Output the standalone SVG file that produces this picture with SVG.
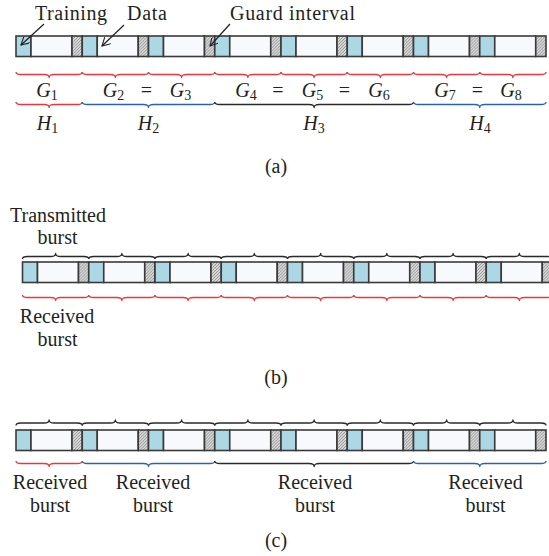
<svg xmlns="http://www.w3.org/2000/svg" xmlns:xlink="http://www.w3.org/1999/xlink" width="549" height="556" viewBox="0 0 549 556" font-family="'Liberation Serif', 'DejaVu Serif', serif">
  <style>
    text { font-family: 'Liberation Serif', 'DejaVu Serif', serif; font-size: 20px; fill: #231f20; }
    .mid { text-anchor: middle; }
    .it { font-style: italic; }
    .sub { font-size: 14px; }
    .brace { fill: none; stroke-width: 1.3; stroke-linejoin: round; }
    .red { stroke: #e8383d; }
    .blue { stroke: #2f5fb0; }
    .black { stroke: #2a2a2a; }
    .cell { stroke: #3a3a3a; stroke-width: 1.6; }
    .train { fill: #acd8e6; }
    .data { fill: #f8f9fc; }
    .guard { fill: url(#hatch); }
    .arrow { fill: none; stroke: #231f20; stroke-width: 1.2; marker-end: url(#head); }
  </style>
  <defs>
    <pattern id="hatch" width="3" height="3" patternUnits="userSpaceOnUse">
      <rect width="3" height="3" fill="#d6d6d6"/>
      <path d="M0,3 L3,0 M-1,1 L1,-1 M2,4 L4,2" stroke="#8a8a8a" stroke-width="0.8"/>
    </pattern>
    <marker id="head" viewBox="0 0 10 10" refX="9" refY="5" markerWidth="9" markerHeight="9" markerUnits="userSpaceOnUse" orient="auto">
      <path d="M0,0 L9,5 L0,10" fill="none" stroke="#231f20" stroke-width="1.2"/>
    </marker>
    <!-- one burst: training, data, guard interval -->
    <g id="burst">
      <rect class="cell train" x="0" y="0" width="15" height="20.5"/>
      <rect class="cell data" x="15" y="0" width="41" height="20.5"/>
      <rect class="cell guard" x="56" y="0" width="10.25" height="20.5"/>
    </g>
    <!-- braces, drawn from their left end at the origin -->
    <path id="bDown1" d="M0,0 Q0,2.5 5,2.5 H28.125 Q33.125,2.5 33.125,5.5 Q33.125,2.5 38.125,2.5 H61.25 Q66.25,2.5 66.25,0"/>
    <path id="bUp1" d="M0,0 Q0,-2.5 5,-2.5 H28.125 Q33.125,-2.5 33.125,-5.5 Q33.125,-2.5 38.125,-2.5 H61.25 Q66.25,-2.5 66.25,0"/>
    <path id="bDown2" d="M0,0 Q0,2.5 5,2.5 H61.25 Q66.25,2.5 66.25,5.5 Q66.25,2.5 71.25,2.5 H127.5 Q132.5,2.5 132.5,0"/>
    <path id="bDown3" d="M0,0 Q0,2.5 5,2.5 H94.375 Q99.375,2.5 99.375,5.5 Q99.375,2.5 104.375,2.5 H193.75 Q198.75,2.5 198.75,0"/>
  </defs>

  <!-- (a) -->
  <g id="panel-a">
    <g id="bar-a">
      <use xlink:href="#burst" x="16" y="36"/>
      <use xlink:href="#burst" x="82.25" y="36"/>
      <use xlink:href="#burst" x="148.5" y="36"/>
      <use xlink:href="#burst" x="214.75" y="36"/>
      <use xlink:href="#burst" x="281" y="36"/>
      <use xlink:href="#burst" x="347.25" y="36"/>
      <use xlink:href="#burst" x="413.5" y="36"/>
      <use xlink:href="#burst" x="479.75" y="36"/>
    </g>
    <g id="labels-a">
      <text x="35" y="19.5" textLength="72">Training</text>
      <text x="127" y="19.5" textLength="40">Data</text>
      <text x="230" y="19.5" textLength="125">Guard interval</text>
    </g>
    <g id="arrows-a">
      <line class="arrow" x1="44" y1="24" x2="21" y2="45"/>
      <line class="arrow" x1="124" y1="25" x2="102" y2="46"/>
      <line class="arrow" x1="230" y1="24" x2="210" y2="46"/>
    </g>
    <g id="braces-g" class="brace red">
      <use xlink:href="#bDown1" x="16" y="72"/>
      <use xlink:href="#bDown1" x="82.25" y="72"/>
      <use xlink:href="#bDown1" x="148.5" y="72"/>
      <use xlink:href="#bDown1" x="214.75" y="72"/>
      <use xlink:href="#bDown1" x="281" y="72"/>
      <use xlink:href="#bDown1" x="347.25" y="72"/>
      <use xlink:href="#bDown1" x="413.5" y="72"/>
      <use xlink:href="#bDown1" x="479.75" y="72"/>
    </g>
    <g id="g-labels">
      <text class="mid" x="47" y="97"><tspan class="it">G</tspan><tspan class="sub" dy="3">1</tspan></text>
      <text class="mid" x="113.5" y="97"><tspan class="it">G</tspan><tspan class="sub" dy="3">2</tspan></text>
      <text class="mid" x="146.5" y="97">=</text>
      <text class="mid" x="180.5" y="97"><tspan class="it">G</tspan><tspan class="sub" dy="3">3</tspan></text>
      <text class="mid" x="246" y="97"><tspan class="it">G</tspan><tspan class="sub" dy="3">4</tspan></text>
      <text class="mid" x="278" y="97">=</text>
      <text class="mid" x="312.5" y="97"><tspan class="it">G</tspan><tspan class="sub" dy="3">5</tspan></text>
      <text class="mid" x="344.5" y="97">=</text>
      <text class="mid" x="379" y="97"><tspan class="it">G</tspan><tspan class="sub" dy="3">6</tspan></text>
      <text class="mid" x="445" y="97"><tspan class="it">G</tspan><tspan class="sub" dy="3">7</tspan></text>
      <text class="mid" x="477.5" y="97">=</text>
      <text class="mid" x="511" y="97"><tspan class="it">G</tspan><tspan class="sub" dy="3">8</tspan></text>
    </g>
    <g id="braces-h">
      <use class="brace red" xlink:href="#bDown1" x="16" y="102"/>
      <use class="brace blue" xlink:href="#bDown2" x="82.25" y="102"/>
      <use class="brace black" xlink:href="#bDown3" x="214.75" y="102"/>
      <use class="brace blue" xlink:href="#bDown2" x="413.5" y="102"/>
    </g>
    <g id="h-labels">
      <text class="mid" x="47.5" y="130"><tspan class="it">H</tspan><tspan class="sub" dy="3">1</tspan></text>
      <text class="mid" x="148.5" y="130"><tspan class="it">H</tspan><tspan class="sub" dy="3">2</tspan></text>
      <text class="mid" x="314" y="130"><tspan class="it">H</tspan><tspan class="sub" dy="3">3</tspan></text>
      <text class="mid" x="480" y="130"><tspan class="it">H</tspan><tspan class="sub" dy="3">4</tspan></text>
    </g>
    <text class="mid" x="276" y="173">(a)</text>
  </g>

  <!-- (b) -->
  <g id="panel-b">
    <g id="tx-label">
      <text class="mid" x="58" y="221.5">Transmitted</text>
      <text class="mid" x="57.5" y="243.5">burst</text>
    </g>
    <g id="braces-tx" class="brace black">
      <use xlink:href="#bUp1" x="22.5" y="259"/>
      <use xlink:href="#bUp1" x="88.75" y="259"/>
      <use xlink:href="#bUp1" x="155" y="259"/>
      <use xlink:href="#bUp1" x="221.25" y="259"/>
      <use xlink:href="#bUp1" x="287.5" y="259"/>
      <use xlink:href="#bUp1" x="353.75" y="259"/>
      <use xlink:href="#bUp1" x="420" y="259"/>
      <use xlink:href="#bUp1" x="486.25" y="259"/>
    </g>
    <g id="bar-b">
      <use xlink:href="#burst" x="22.5" y="262"/>
      <use xlink:href="#burst" x="88.75" y="262"/>
      <use xlink:href="#burst" x="155" y="262"/>
      <use xlink:href="#burst" x="221.25" y="262"/>
      <use xlink:href="#burst" x="287.5" y="262"/>
      <use xlink:href="#burst" x="353.75" y="262"/>
      <use xlink:href="#burst" x="420" y="262"/>
      <use xlink:href="#burst" x="486.25" y="262"/>
    </g>
    <g id="braces-rx" class="brace red">
      <use xlink:href="#bDown1" x="22.5" y="295"/>
      <use xlink:href="#bDown1" x="88.75" y="295"/>
      <use xlink:href="#bDown1" x="155" y="295"/>
      <use xlink:href="#bDown1" x="221.25" y="295"/>
      <use xlink:href="#bDown1" x="287.5" y="295"/>
      <use xlink:href="#bDown1" x="353.75" y="295"/>
      <use xlink:href="#bDown1" x="420" y="295"/>
      <use xlink:href="#bDown1" x="486.25" y="295"/>
    </g>
    <g id="rx-label">
      <text class="mid" x="57" y="323">Received</text>
      <text class="mid" x="57.5" y="346">burst</text>
    </g>
    <text class="mid" x="276" y="384">(b)</text>
  </g>

  <!-- (c) -->
  <g id="panel-c">
    <g id="braces-c-top" class="brace black">
      <use xlink:href="#bUp1" x="16" y="425.5"/>
      <use xlink:href="#bUp1" x="82.25" y="425.5"/>
      <use xlink:href="#bUp1" x="148.5" y="425.5"/>
      <use xlink:href="#bUp1" x="214.75" y="425.5"/>
      <use xlink:href="#bUp1" x="281" y="425.5"/>
      <use xlink:href="#bUp1" x="347.25" y="425.5"/>
      <use xlink:href="#bUp1" x="413.5" y="425.5"/>
      <use xlink:href="#bUp1" x="479.75" y="425.5"/>
    </g>
    <g id="bar-c">
      <use xlink:href="#burst" x="16" y="430"/>
      <use xlink:href="#burst" x="82.25" y="430"/>
      <use xlink:href="#burst" x="148.5" y="430"/>
      <use xlink:href="#burst" x="214.75" y="430"/>
      <use xlink:href="#burst" x="281" y="430"/>
      <use xlink:href="#burst" x="347.25" y="430"/>
      <use xlink:href="#burst" x="413.5" y="430"/>
      <use xlink:href="#burst" x="479.75" y="430"/>
    </g>
    <g id="braces-c-bottom">
      <use class="brace red" xlink:href="#bDown1" x="16" y="461"/>
      <use class="brace blue" xlink:href="#bDown2" x="82.25" y="461"/>
      <use class="brace black" xlink:href="#bDown3" x="214.75" y="461"/>
      <use class="brace blue" xlink:href="#bDown2" x="413.5" y="461"/>
    </g>
    <g id="rx-c1">
      <text class="mid" x="50" y="488.5">Received</text>
      <text class="mid" x="50" y="512">burst</text>
    </g>
    <g id="rx-c2">
      <text class="mid" x="153" y="488.5">Received</text>
      <text class="mid" x="153" y="512">burst</text>
    </g>
    <g id="rx-c3">
      <text class="mid" x="315" y="488.5">Received</text>
      <text class="mid" x="315" y="512">burst</text>
    </g>
    <g id="rx-c4">
      <text class="mid" x="485.5" y="488.5">Received</text>
      <text class="mid" x="485.5" y="512">burst</text>
    </g>
    <text class="mid" x="276" y="547">(c)</text>
  </g>
</svg>
